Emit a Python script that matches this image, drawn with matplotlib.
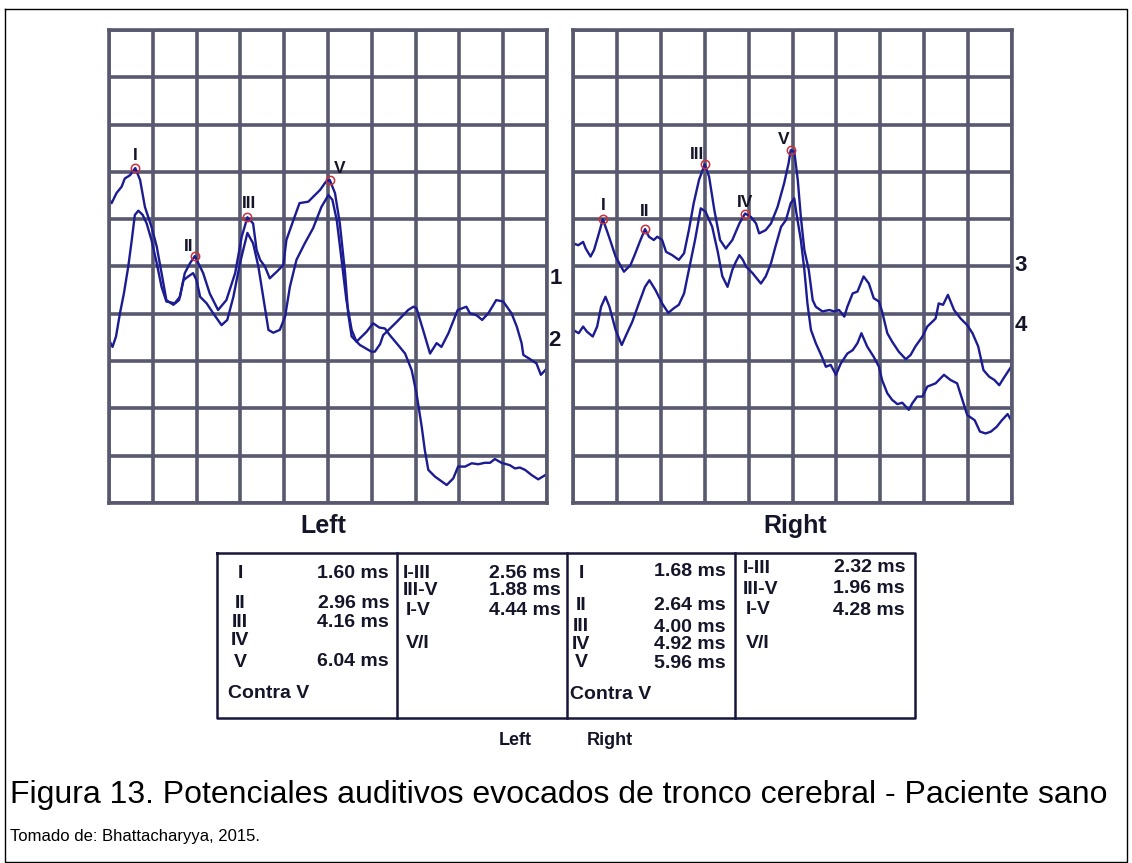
import matplotlib.pyplot as plt
import numpy as np

plt.rcParams['font.family'] = ['Liberation Sans', 'DejaVu Sans']

# ---- recorded sweeps (time in ms, amplitude in grid divisions) ----
left_1_t = [1.00, 1.06, 1.17, 1.29, 1.36, 1.48, 1.60, 1.71, 1.82, 1.97, 2.09, 2.20, 2.31,
            2.47, 2.62, 2.73, 2.85, 2.96, 3.15, 3.30, 3.49, 3.68, 3.88, 4.03, 4.16, 4.29,
            4.37, 4.45, 4.56, 4.67, 4.83, 4.98, 5.05, 5.21, 5.35, 5.55, 5.82, 5.95, 6.04,
            6.16, 6.27, 6.39, 6.46, 6.54, 6.73, 6.99, 7.07, 7.19, 7.26, 7.34, 7.57, 7.83,
            7.95, 8.02, 8.17, 8.33, 8.48, 8.59, 8.75, 8.96, 9.16, 9.24, 9.39, 9.52, 9.66,
            9.84, 10.00, 10.19, 10.31, 10.42, 10.46, 10.65, 10.76, 10.86, 11.00]
left_1_v = [6.42, 6.34, 6.55, 6.69, 6.86, 6.93, 7.08, 6.83, 6.26, 5.84, 5.42, 4.86, 4.29,
            4.19, 4.36, 4.86, 5.07, 5.22, 4.86, 4.43, 4.08, 4.29, 4.86, 5.63, 6.04, 5.91,
            5.35, 5.14, 5.00, 4.75, 4.89, 5.03, 5.56, 5.98, 6.34, 6.37, 6.62, 6.79, 6.83,
            6.55, 5.91, 4.86, 4.01, 3.52, 3.34, 3.20, 3.20, 3.36, 3.55, 3.62, 3.83, 4.08,
            4.15, 4.12, 3.66, 3.16, 3.38, 3.30, 3.59, 4.08, 4.15, 4.01, 3.97, 3.87, 4.01,
            4.29, 4.26, 4.01, 3.73, 3.38, 3.13, 3.02, 2.95, 2.71, 2.85]

left_2_t = [1.00, 1.08, 1.16, 1.25, 1.34, 1.44, 1.52, 1.59, 1.67, 1.77, 1.86, 1.97, 2.09,
            2.20, 2.31, 2.51, 2.60, 2.70, 2.81, 2.92, 3.00, 3.08, 3.23, 3.38, 3.57, 3.70,
            3.84, 3.99, 4.16, 4.29, 4.41, 4.52, 4.64, 4.75, 4.90, 5.02, 5.13, 5.28, 5.47,
            5.66, 5.85, 6.01, 6.10, 6.20, 6.31, 6.42, 6.54, 6.65, 6.88, 7.03, 7.17, 7.30,
            7.41, 7.60, 7.76, 7.91, 8.02, 8.14, 8.21, 8.29, 8.44, 8.71, 8.86, 8.97, 9.13,
            9.28, 9.43, 9.58, 9.70, 9.81, 9.96, 10.15, 10.27, 10.38, 10.50, 10.65, 10.80,
            10.96]
left_2_v = [3.45, 3.30, 3.52, 4.01, 4.43, 5.00, 5.56, 6.09, 6.18, 6.09, 5.91, 5.56, 5.07,
            4.57, 4.26, 4.22, 4.29, 4.71, 4.79, 4.86, 4.71, 4.36, 4.22, 4.01, 3.76, 3.87,
            4.36, 5.07, 5.71, 5.49, 5.00, 4.36, 3.66, 3.60, 3.66, 3.94, 4.57, 5.14, 5.49,
            5.81, 6.26, 6.51, 6.41, 5.98, 5.14, 4.29, 3.66, 3.41, 3.62, 3.80, 3.71, 3.69,
            3.55, 3.34, 3.16, 2.81, 2.32, 1.61, 1.12, 0.70, 0.56, 0.38, 0.52, 0.77, 0.77,
            0.84, 0.82, 0.85, 0.85, 0.93, 0.85, 0.80, 0.73, 0.75, 0.70, 0.59, 0.50,
            0.59]

right_3_t = [1.00, 1.12, 1.23, 1.29, 1.40, 1.48, 1.59, 1.68, 1.82, 1.97, 2.16, 2.31, 2.42,
             2.52, 2.64, 2.73, 2.84, 2.92, 3.03, 3.12, 3.26, 3.41, 3.53, 3.64, 3.75, 3.87,
             4.00, 4.10, 4.22, 4.35, 4.48, 4.63, 4.79, 4.92, 5.05, 5.17, 5.24, 5.39, 5.51,
             5.66, 5.81, 5.91, 5.96, 6.04, 6.12, 6.19, 6.27, 6.37, 6.46, 6.53, 6.68, 6.84,
             6.95, 7.06, 7.18, 7.25, 7.37, 7.48, 7.62, 7.74, 7.85, 7.97, 8.04, 8.16, 8.27,
             8.42, 8.58, 8.69, 8.80, 8.96, 9.07, 9.26, 9.33, 9.43, 9.54, 9.68, 9.83, 9.98,
             10.10, 10.23, 10.35, 10.48, 10.60, 10.71, 10.81, 10.98]
right_3_v = [5.49, 5.45, 5.52, 5.38, 5.21, 5.35, 5.70, 6.00, 5.63, 5.21, 4.89, 5.03, 5.28,
             5.52, 5.79, 5.63, 5.56, 5.63, 5.56, 5.31, 5.24, 5.14, 5.28, 5.77, 6.34, 6.83,
             7.16, 6.90, 6.19, 5.56, 5.38, 5.56, 5.91, 6.12, 6.05, 5.91, 5.70, 5.77, 5.91,
             6.26, 6.76, 7.18, 7.46, 7.43, 6.83, 6.05, 5.35, 4.93, 4.29, 4.15, 4.05, 4.08,
             4.05, 4.08, 3.94, 4.15, 4.43, 4.47, 4.79, 4.64, 4.33, 4.26, 4.05, 3.59, 3.41,
             3.20, 3.04, 3.13, 3.31, 3.52, 3.73, 3.90, 4.22, 4.19, 4.40, 4.08, 3.90, 3.76,
             3.59, 3.31, 2.81, 2.67, 2.60, 2.49, 2.64, 2.88]

right_4_t = [1.00, 1.13, 1.23, 1.32, 1.45, 1.55, 1.64, 1.74, 1.83, 1.97, 2.11, 2.23, 2.35,
             2.50, 2.64, 2.74, 2.88, 3.03, 3.17, 3.30, 3.41, 3.53, 3.64, 3.78, 3.91, 4.02,
             4.17, 4.30, 4.40, 4.52, 4.63, 4.71, 4.79, 4.87, 4.94, 5.09, 5.28, 5.39, 5.51,
             5.62, 5.74, 5.85, 5.96, 6.04, 6.09, 6.19, 6.27, 6.34, 6.42, 6.53, 6.67, 6.76,
             6.87, 6.99, 7.10, 7.25, 7.37, 7.48, 7.57, 7.70, 7.85, 7.97, 8.04, 8.16, 8.27,
             8.39, 8.50, 8.65, 8.73, 8.84, 8.96, 9.07, 9.26, 9.45, 9.60, 9.75, 9.87, 9.98,
             10.15, 10.27, 10.40, 10.52, 10.65, 10.77, 10.90, 11.00]
right_4_v = [3.66, 3.59, 3.73, 3.62, 3.52, 3.73, 4.15, 4.36, 4.15, 3.66, 3.34, 3.59, 3.83,
             4.22, 4.57, 4.71, 4.50, 4.22, 4.02, 4.12, 4.19, 4.43, 4.93, 5.56, 6.23, 6.16,
             5.84, 5.30, 4.80, 4.57, 4.93, 5.10, 5.24, 5.14, 5.00, 4.86, 4.64, 4.79, 5.07,
             5.45, 5.84, 5.98, 6.34, 6.44, 6.12, 5.56, 4.93, 4.22, 3.66, 3.38, 3.09, 2.88,
             2.92, 2.71, 2.95, 3.16, 3.23, 3.38, 3.59, 3.31, 3.09, 2.88, 2.60, 2.32, 2.18,
             2.09, 2.12, 1.97, 2.11, 2.25, 2.25, 2.46, 2.53, 2.71, 2.60, 2.53, 2.18, 1.86,
             1.75, 1.51, 1.47, 1.51, 1.61, 1.75, 1.88, 1.72]

# ---- wave latencies (ms); None = not marked ----
wave_names = ['I', 'II', 'III', 'IV', 'V']
left_lat = [1.60, 2.96, 4.16, None, 6.04]
right_lat = [1.68, 2.64, 4.00, 4.92, 5.96]

GRID = '#58586f'
TRACE = '#1c1c92'
INK = '#15152a'
W, H = 1132, 863

fig = plt.figure(figsize=(W / 100, H / 100), dpi=100)
page = fig.add_axes([0, 0, 1, 1])
page.set_xlim(0, W)
page.set_ylim(H, 0)
page.axis('off')

# outer frame
page.plot([5, 1127, 1127, 5, 5], [9, 9, 862, 862, 9], color='black', lw=1.0)


def panel(x0, x1, y0, y1):
    ax = fig.add_axes([x0 / W, 1 - y1 / H, (x1 - x0) / W, (y1 - y0) / H])
    ax.set_xlim(1, 11)
    ax.set_ylim(0, 10)
    ax.set_xticks(np.arange(1, 12))
    ax.set_yticks(np.arange(0, 11))
    ax.tick_params(length=0, labelbottom=False, labelleft=False)
    ax.grid(True, color=GRID, lw=2.6)
    ax.set_axisbelow(True)
    for s in ax.spines.values():
        s.set_color(GRID)
        s.set_linewidth(2.6)
    return ax


def mark_waves(ax, t, v, lats, offsets):
    for name, lat, off in zip(wave_names, lats, offsets):
        if lat is None:
            continue
        y = np.interp(lat, t, v)
        ax.plot(lat, y, 'o', mfc='none', mec='#c8323e', ms=6, mew=1.1, zorder=5)
        ax.annotate(name, (lat, y), xytext=off, textcoords='offset pixels',
                    ha='center', va='bottom', fontsize=12.5, fontweight='bold', color=INK)


axL = panel(109, 547, 30, 503)
axL.plot(left_1_t, left_1_v, color=TRACE, lw=1.7)
axL.plot(left_2_t, left_2_v, color=TRACE, lw=1.7)
mark_waves(axL, left_1_t, left_1_v, left_lat,
           [(0, 5), (-6, 2), (2, 6), None, (10, 4)])

axR = panel(573, 1012, 30, 503)
axR.plot(right_3_t, right_3_v, color=TRACE, lw=1.7)
axR.plot(right_4_t, right_4_v, color=TRACE, lw=1.7)
mark_waves(axR, right_3_t, right_3_v, right_lat,
           [(0, 6), (0, 10), (-8, 2), (0, 4), (-7, 3)])

# sweep numbers
for s, (x, y) in zip(['1', '2', '3', '4'], [(556, 278), (554, 340), (1021, 265), (1021, 325)]):
    page.text(x, y, s, ha='center', va='center', fontsize=16, fontweight='bold', color=INK)

page.text(323, 526, 'Left', ha='center', va='center', fontsize=18, fontweight='bold', color=INK)
page.text(795, 526, 'Right', ha='center', va='center', fontsize=18, fontweight='bold', color=INK)

# ---- latency table ----
tb = dict(color='#16163a', lw=1.8)
page.plot([217, 915, 915, 217, 217], [553, 553, 718, 718, 553], **tb)
for xd in (397, 567, 735):
    page.plot([xd, xd], [553, 718], **tb)

fs = 14
txt = dict(fontsize=fs, fontweight='bold', color=INK, va='center')


def abs_column(lats, x_name, x_val, rows_y, val_y, contra_x, contra_y):
    for name, lat, yn, yv in zip(wave_names, lats, rows_y, val_y):
        page.text(x_name, yn, name, ha='center', **txt)
        if lat is not None:
            page.text(x_val, yv, f'{lat:.2f} ms', ha='right', **txt)
    page.text(contra_x, contra_y, 'Contra V', ha='left', **txt)


def interval_column(lats, x_name, x_val, rows_y, val_y, vi_y):
    i, iii, v = lats[0], lats[2], lats[4]
    pairs = [('I-III', iii - i), ('III-V', v - iii), ('I-V', v - i)]
    for (name, d), yn, yv, dx in zip(pairs, rows_y, val_y, (0, 0, 3)):
        page.text(x_name + dx, yn, name, ha='left', **txt)
        page.text(x_val, yv, f'{d:.2f} ms', ha='right', **txt)
    page.text(x_name + 3, vi_y, 'V/I', ha='left', **txt)


abs_column(left_lat, 240, 389, [573, 603, 622, 640, 662], [573, 603, 622, 640, 661], 228, 693)
interval_column(left_lat, 403, 561, [573, 590, 610], [573, 590, 610], 643)
abs_column(right_lat, 581, 726, [573, 605, 626, 644, 662], [571, 605, 627, 644, 663], 570, 694)
interval_column(right_lat, 743, 905, [568, 589, 609], [567, 588, 610], 643)

page.text(515, 740, 'Left', ha='center', va='center', fontsize=13, fontweight='bold', color=INK)
page.text(610, 740, 'Right', ha='center', va='center', fontsize=13, fontweight='bold', color=INK)

# ---- caption ----
page.text(10, 795, 'Figura 13. Potenciales auditivos evocados de tronco cerebral - Paciente sano',
          ha='left', va='center', fontsize=23, color='black')
page.text(10, 836, 'Tomado de: Bhattacharyya, 2015.', ha='left', va='center',
          fontsize=12, color='black')

fig.savefig('out.png', dpi=100)
